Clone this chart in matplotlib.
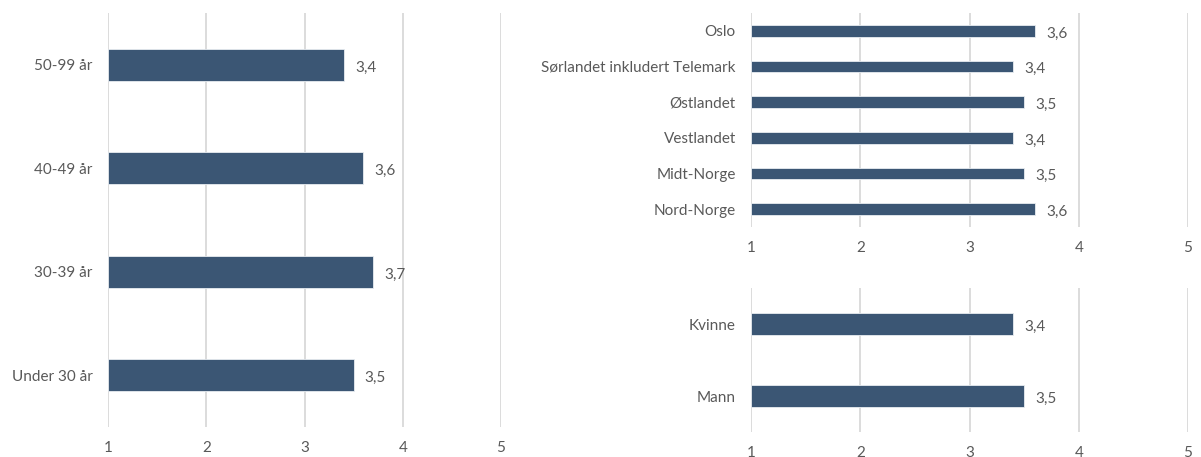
import matplotlib.pyplot as plt

# data
age_groups = ["Under 30 år", "30-39 år", "40-49 år", "50-99 år"]
age_values = [3.5, 3.7, 3.6, 3.4]

regions = ["Nord-Norge", "Midt-Norge", "Vestlandet", "Østlandet",
           "Sørlandet inkludert Telemark", "Oslo"]
region_values = [3.6, 3.5, 3.4, 3.5, 3.4, 3.6]

genders = ["Mann", "Kvinne"]
gender_values = [3.5, 3.4]

xticks = [1, 2, 3, 4, 5]

plt.rcParams['font.family'] = ['Lato', 'DejaVu Sans']
bar_color = '#3B5674'
text_color = '#595959'
grid_color = '#D9D9D9'

W, H = 1201, 457
fig = plt.figure(figsize=(W / 100, H / 100), dpi=100)


def make_axes(x0, x1, y0, y1):
    # pixel box -> figure fraction
    return fig.add_axes([x0 / W, 1 - y1 / H, (x1 - x0) / W, (y1 - y0) / H])


def draw(ax, labels, values, height):
    pos = range(len(labels))
    ax.barh(pos, [v - 1 for v in values], left=1, height=height,
            color=bar_color, edgecolor='#E8ECF1', linewidth=0.6, zorder=3)
    for p, v in zip(pos, values):
        ax.annotate(f"{v:.1f}".replace('.', ','), (v, p), xytext=(8, -2),
                    textcoords='offset points', va='center', ha='left',
                    fontsize=11, color=text_color)
    ax.set_xlim(1, 5)
    ax.set_ylim(-0.5, len(labels) - 0.5)
    ax.set_xticks(xticks)
    ax.set_yticks(list(pos))
    ax.set_yticklabels(labels)
    ax.grid(axis='x', color=grid_color, linewidth=1.3, zorder=0)
    for s in ax.spines.values():
        s.set_visible(False)
    ax.tick_params(axis='both', length=0, labelsize=11, colors=text_color)
    ax.tick_params(axis='x', pad=10)
    ax.tick_params(axis='y', pad=11)
    ax.set_facecolor('none')


ax1 = make_axes(108, 501, 13, 427)
draw(ax1, age_groups, age_values, 0.31)

ax2 = make_axes(751, 1188, 13, 227)
draw(ax2, regions, region_values, 0.33)

ax3 = make_axes(751, 1188, 288, 432)
draw(ax3, genders, gender_values, 0.31)

fig.savefig('out.png', dpi=100)
